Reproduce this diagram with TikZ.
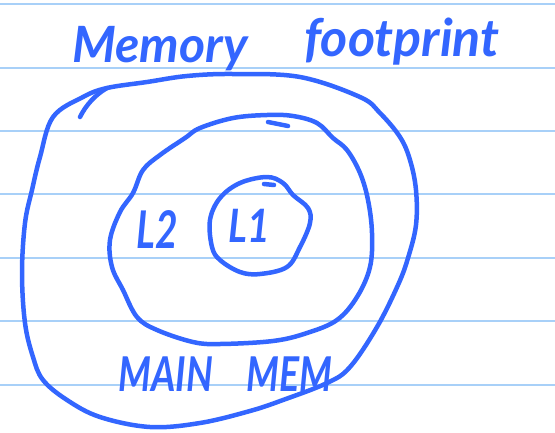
\documentclass[tikz,border=0pt]{standalone}
\usepackage{fontspec}
\setmainfont{Lato}
\usetikzlibrary{calc}
\definecolor{pen}{HTML}{3366FF}
\definecolor{rule}{HTML}{A8D0F8}
\tikzset{
  ink/.style={draw=pen,line width=4.5pt,line cap=round,line join=round},
  ruleline/.style={draw=rule,line width=1.6pt},
  hand/.style={text=pen,font=\bfseries\itshape,inner sep=0pt,anchor=base west}
}
\begin{document}
\begin{tikzpicture}[x=1pt,y=-1pt]
\useasboundingbox (0,0) rectangle (555,432);
\fill[white] (0,0) rectangle (555,432);
% ruled lines
\foreach \yy/\nm in {4/r1,68/r2,131/r3,194/r4,258/r5,321/r6,385/r7}{
  \coordinate (\nm a) at (0,\yy);
  \coordinate (\nm b) at (555,\yy);
  \draw[ruleline] (\nm a) -- (\nm b);
}
% outer boundary
\draw[ink] plot[smooth cycle,tension=0.6] coordinates {
 (53,117) (83,97) (107,88) (147,82) (187,76) (233,74) (300,77) (360,97) (380,113) (400,137)
 (410,160) (416,190) (416,225) (408,258) (398,285) (377,327) (350,367) (327,383)
 (283,400) (250,411) (200,423) (150,427) (100,417) (67,400) (43,380) (33,357)
 (25,323) (22,273) (25,223) (32,190) (40,157)};
\draw[ink] (80,117) .. controls (86,105) and (95,95) .. (107,88);
% middle boundary
\draw[ink] plot[smooth cycle,tension=0.6] coordinates {
 (200,128) (233,118) (267,115) (293,116) (317,123) (333,138) (347,150) (360,173)
 (368,200) (372,233) (370,267) (357,297) (337,320) (307,333) (273,341) (220,344)
 (193,342) (157,330) (137,317) (123,290) (112,267) (110,240) (120,212) (133,193)
 (143,170) (160,155) (185,138)};
\draw[ink] (268,122) -- (288,126);
% inner boundary
\draw[ink] plot[smooth cycle,tension=0.6] coordinates {
 (267,177) (283,183) (293,195) (308,208) (310,223) (300,247) (287,267) (260,274)
 (240,272) (220,260) (212,247) (210,220) (220,198) (240,183)};
\draw[ink] (264,184) -- (274,185);
% texts
\node[hand,font=\bfseries\itshape\fontsize{50}{50}\selectfont] (t1) at (72,62) {Memory};
\node[hand,font=\bfseries\itshape\fontsize{52}{52}\selectfont] (t2) at (304,56) {footprint};
\node[hand,font=\bfseries\itshape\fontsize{52}{52}\selectfont] (l2) at (136,248) {\scalebox{0.75}[1]{L2}};
\node[hand,font=\bfseries\itshape\fontsize{46}{46}\selectfont] (l1) at (228,242) {\scalebox{0.85}[1]{L1}};
\node[hand,font=\bfseries\itshape\fontsize{48}{48}\selectfont] (mm) at (118,391) {\scalebox{0.78}[1]{MAIN\hspace{0.9em}MEM}};
\end{tikzpicture}
\end{document}
